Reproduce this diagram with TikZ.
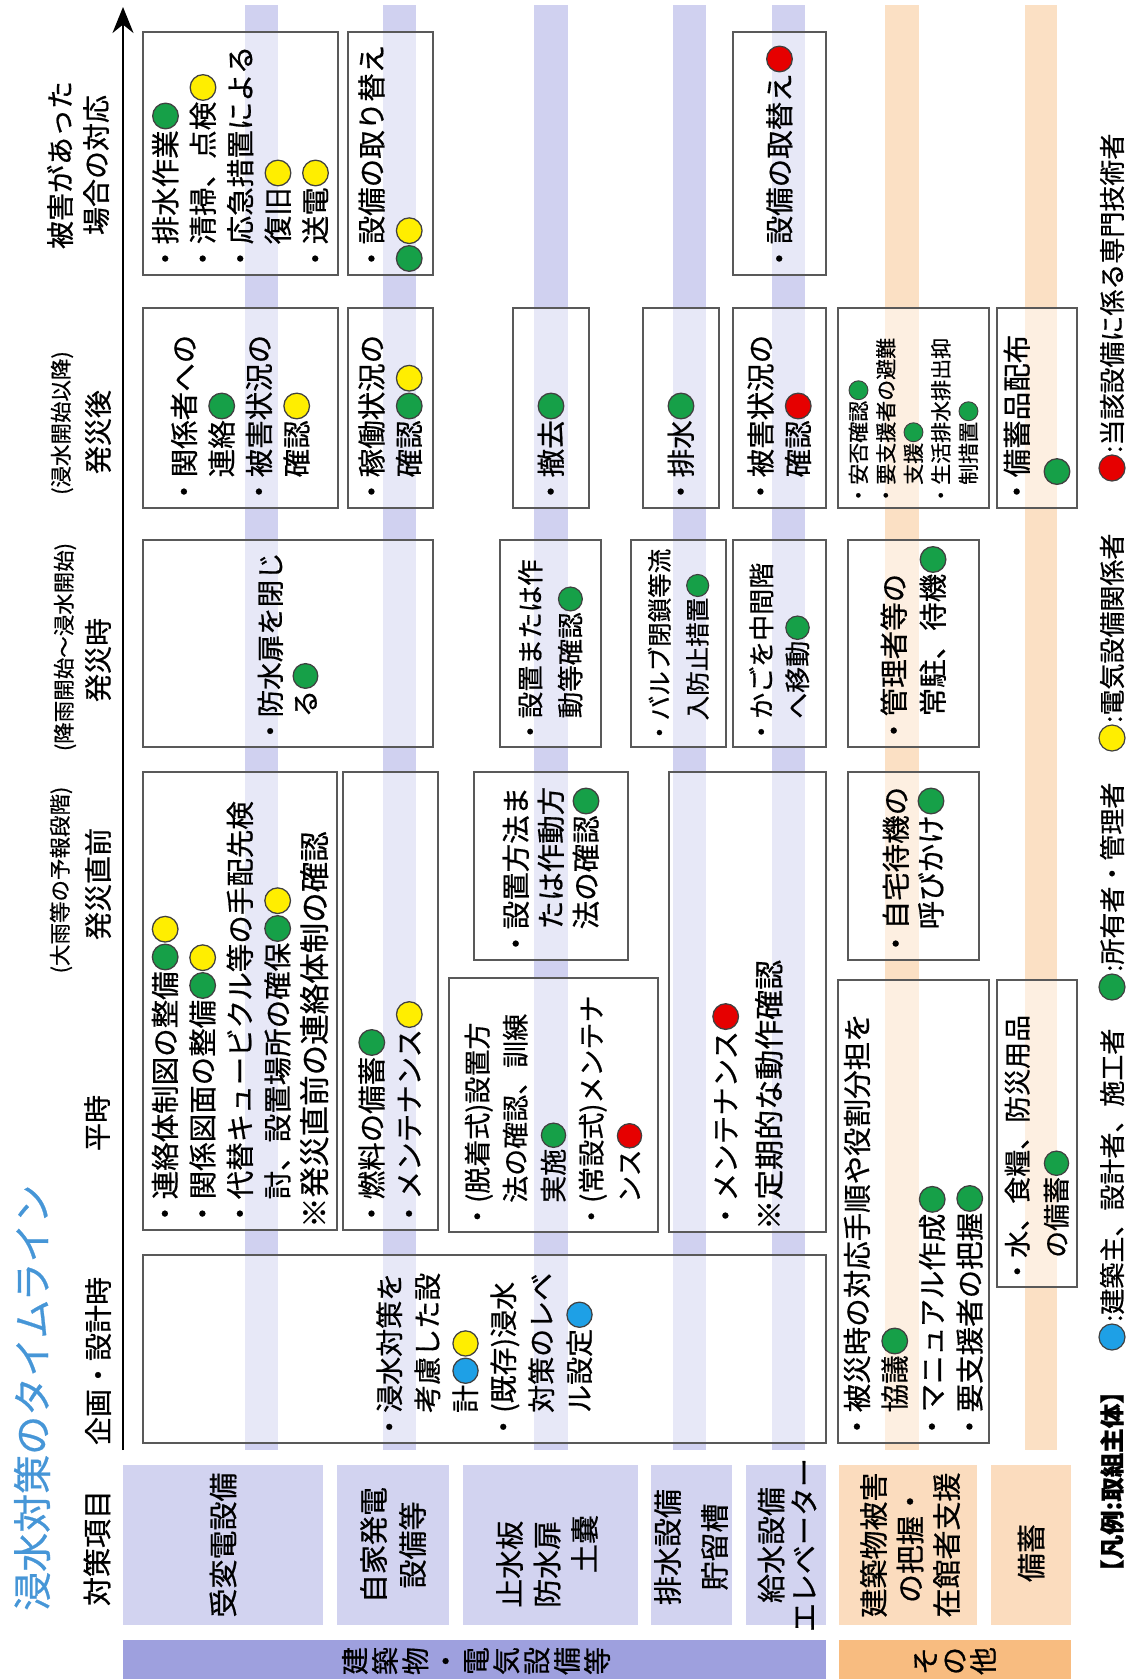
\documentclass[tikz,border=0pt]{standalone}
\usepackage{fontspec}
\setmainfont{Noto Sans CJK JP}[FakeBold=0.6]
\usetikzlibrary{arrows.meta}
\definecolor{cg}{RGB}{22,160,72}
\definecolor{cy}{RGB}{255,238,0}
\definecolor{cb}{RGB}{30,160,230}
\definecolor{crd}{RGB}{230,0,0}
\definecolor{lav}{RGB}{208,209,240}
\definecolor{lavhead}{RGB}{210,211,240}
\definecolor{lavbar}{RGB}{158,160,222}
\definecolor{org}{RGB}{251,224,196}
\definecolor{orghead}{RGB}{251,220,190}
\definecolor{orgbar}{RGB}{248,188,128}
\definecolor{ttl}{RGB}{70,150,215}
\newcommand{\mk}[1]{\hspace{0.03em}\tikz[baseline={(0,-0.37em)}]\draw[line width=0.045em,draw=black!75,fill=#1] (0,0) circle (0.45em);}
\newcommand{\mkG}{\mk{cg}}
\newcommand{\mkY}{\mk{cy}}
\newcommand{\mkB}{\mk{cb}}
\newcommand{\mkR}{\mk{crd}}
\newcommand{\ind}{\hspace*{1em}}
\tikzset{
  boxs/.style={draw=black!65,line width=1.3pt,fill=white,fill opacity=0.5},
  tx/.style={rotate=90,anchor=west,inner sep=0pt,align=left,font=\fontsize{28.5}{37.5}\selectfont},
  hd/.style={rotate=90,anchor=center,inner sep=0pt,align=center,font=\fontsize{29}{37.5}\selectfont},
  ph/.style={rotate=90,anchor=center,inner sep=0pt,align=center,font=\fontsize{28}{36}\selectfont},
  phs/.style={rotate=90,anchor=center,inner sep=0pt,font=\fontsize{21.5}{24}\selectfont},
  lg/.style={rotate=90,anchor=west,inner sep=0pt,font=\fontsize{26}{30}\selectfont},
  lgc/.style={circle,draw=black!75,line width=1.2pt,minimum size=26pt,inner sep=0pt},
  vt/.style={rotate=90,anchor=center,inner sep=0pt,align=center,font=\fontsize{28}{30.3}\selectfont},
}
\begin{document}
\begin{tikzpicture}[x=1pt,y=1pt]
\path[use as bounding box] (0,0) rectangle (1128,-1679);
% stripes
\foreach \a/\b in {245/278,383/416,534/568,673/706,772/805}
  \fill[lav] (\a,-5) rectangle (\b,-1450);
\foreach \a/\b in {885/919,1025/1057}
  \fill[org] (\a,-5) rectangle (\b,-1450);
% boxes
\draw[boxs] (143,-32) rectangle (338,-275);
\draw[boxs] (348,-32) rectangle (433,-275);
\draw[boxs] (733,-32) rectangle (826,-275);
\draw[boxs] (143,-308) rectangle (338,-508);
\draw[boxs] (348,-308) rectangle (433,-508);
\draw[boxs] (513,-308) rectangle (589,-508);
\draw[boxs] (643,-308) rectangle (719,-508);
\draw[boxs] (733,-308) rectangle (826,-508);
\draw[boxs] (838,-308) rectangle (989,-508);
\draw[boxs] (997,-308) rectangle (1077,-508);
\draw[boxs] (143,-540) rectangle (433,-747);
\draw[boxs] (500,-540) rectangle (601,-747);
\draw[boxs] (631,-540) rectangle (726,-747);
\draw[boxs] (733,-540) rectangle (826,-747);
\draw[boxs] (848,-540) rectangle (979,-747);
\draw[boxs] (143,-772) rectangle (337,-1230);
\draw[boxs] (343,-772) rectangle (438,-1230);
\draw[boxs] (474,-772) rectangle (628,-960);
\draw[boxs] (449,-978) rectangle (658,-1232);
\draw[boxs] (669,-772) rectangle (826,-1232);
\draw[boxs] (848,-772) rectangle (979,-960);
\draw[boxs] (838,-980) rectangle (989,-1443);
\draw[boxs] (997,-980) rectangle (1077,-1287);
\draw[boxs] (143,-1255) rectangle (826,-1443);
% box texts
\node[tx] (t1) at (240.5,-273) {・排水作業\mkG\\・清掃、点検\mkY\\・応急措置による\\\ind 復旧\mkY\\・送電\mkY};
\node[tx] (t2) at (390.5,-273) {・設備の取り替え\\\mkG\mkY};
\node[tx] (t3) at (779.5,-273) {・設備の取替え\mkR};
\node[tx] (t4) at (240.5,-506) {・関係者への\\\ind 連絡\mkG\\・被害状況の\\\ind 確認\mkY};
\node[tx] (t5) at (390.5,-506) {・稼働状況の\\\ind 確認\mkG\mkY};
\node[tx] (t6) at (551,-506) {・撤去\mkG};
\node[tx] (t7) at (681,-506) {・排水\mkG};
\node[tx] (t8) at (779.5,-506) {・被害状況の\\\ind 確認\mkR};
\node[tx,font=\fontsize{21}{27.5}\selectfont] (t9) at (913.5,-506) {・安否確認\mkG\\・要支援者の避難\\\ind 支援\mkG\\・生活排水排出抑\\\ind 制措置\mkG};
\node[tx,font=\fontsize{28.5}{40}\selectfont] (t10) at (1037,-506) {・備蓄品配布\\\hspace*{0.7em}\mkG};
\node[tx,font=\fontsize{27.5}{35}\selectfont] (t11) at (288,-745) {・防水扉を閉じ\\\ind る\mkG};
\node[tx,font=\fontsize{26.5}{40}\selectfont] (t12) at (550.5,-745) {・設置または作\\\ind 動等確認\mkG};
\node[tx,font=\fontsize{24.5}{38}\selectfont] (t13) at (678.5,-745) {・バルブ閉鎖等流\\\ind 入防止措置\mkG};
\node[tx,font=\fontsize{26}{36}\selectfont] (t14) at (779.5,-745) {・かごを中間階\\\ind へ移動\mkG};
\node[tx,font=\fontsize{28.5}{39}\selectfont] (t15) at (913.5,-745) {・管理者等の\\\ind 常駐、待機\mkG};
\node[tx] (t16) at (240,-1228) {・連絡体制図の整備\mkG\mkY\\・関係図面の整備\mkG\mkY\\・代替キュービクル等の手配先検\\\ind 討、設置場所の確保\mkG\mkY\\{\fontsize{30.5}{37.5}\selectfont ※発災直前の連絡体制の確認}};
\node[tx] (t17) at (390.5,-1228) {・燃料の備蓄\mkG\\・メンテナンス\mkY};
\node[tx,font=\fontsize{28.5}{35}\selectfont] (t18) at (551,-958) {・設置方法ま\\\ind たは作動方\\\ind 法の確認\mkG};
\node[tx,font=\fontsize{27}{38}\selectfont] (t19) at (553.5,-1230) {・(脱着式)設置方\\\ind 法の確認、訓練\\\ind 実施\mkG\\・(常設式)メンテナ\\\ind ンス\mkR};
\node[tx,font=\fontsize{28.5}{44}\selectfont] (t20) at (747.5,-1230) {・メンテナンス\mkR\\{\fontsize{30}{44}\selectfont ※定期的な動作確認}};
\node[tx,font=\fontsize{28.5}{35}\selectfont] (t21) at (913.5,-958) {・自宅待機の\\\ind 呼びかけ\mkG};
\node[tx] (t22) at (913.5,-1441) {・被災時の対応手順や役割分担を\\\ind 協議\mkG\\・マニュアル作成\mkG\\・要支援者の把握\mkG};
\node[tx,font=\fontsize{27}{39}\selectfont] (t23) at (1037,-1285) {・水、食糧、防災用品\\\ind の備蓄\mkG};
\node[tx,font=\fontsize{28}{38}\selectfont] (t24) at (484.5,-1441) {・浸水対策を\\\ind 考慮した設\\\ind 計\mkB\mkY\\・(既存)浸水\\\ind 対策のレベ\\\ind ル設定\mkB};
% row headers
\fill[lavhead] (123,-1465) rectangle (323,-1625);
\fill[lavhead] (337,-1465) rectangle (449,-1625);
\fill[lavhead] (463,-1465) rectangle (638,-1625);
\fill[lavhead] (651,-1465) rectangle (732,-1625);
\fill[lavhead] (746,-1465) rectangle (826,-1625);
\fill[orghead] (839,-1465) rectangle (977,-1625);
\fill[orghead] (991,-1465) rectangle (1071,-1625);
\node[hd] (h0) at (97,-1548) {対策項目};
\node[hd] (h1) at (223,-1545) {受変電設備};
\node[hd,font=\fontsize{29}{39}\selectfont] (h2) at (393,-1545) {自家発電\\設備等};
\node[hd,anchor=west,align=left] (h3) at (547,-1608) {止水板\\防水扉\\\hspace*{1.2em}土嚢};
\node[hd,font=\fontsize{29}{47}\selectfont] (h4) at (691,-1547) {排水設備\\貯留槽};
\node[hd,font=\fontsize{29}{33}\selectfont] (h5) at (787,-1545) {給水設備\\エレベーター};
\node[hd,font=\fontsize{29}{36.5}\selectfont] (h6) at (910,-1545) {建築物被害\\の把握・\\在館者支援};
\node[hd] (h7) at (1031,-1553) {備蓄};
% category bars
\fill[lavbar] (123,-1640) rectangle (826,-1679);
\fill[orgbar] (839,-1640) rectangle (1071,-1679);
\node[vt] (c1) at (476,-1661) {建\\築\\物\\・\\電\\気\\設\\備\\等};
\node[vt,font=\fontsize{28}{29}\selectfont] (c2) at (955,-1661) {そ\\の\\他};
% title
\node[rotate=90,anchor=west,inner sep=0pt,text=ttl,font=\fontsize{39}{40}\selectfont] (title) at (32,-1611) {浸水対策のタイムライン};
% phase labels
\node[ph] (p1) at (98,-1361) {企画・設計時};
\node[ph] (p2) at (97,-1123) {平時};
\node[ph] (p3) at (98,-884) {発災直前};
\node[phs] (p3s) at (61,-880) {(大雨等の予報段階)};
\node[ph] (p4) at (98,-660) {発災時};
\node[phs] (p4s) at (65,-647) {(降雨開始～浸水開始)};
\node[ph] (p5) at (98,-432) {発災後};
\node[phs] (p5s) at (62,-423) {(浸水開始以降)};
\node[ph] (p6) at (78,-165) {被害があった\\場合の対応};
% timeline arrow
\coordinate (aS) at (123,-1450);
\coordinate (aE) at (123,-7);
\draw[line width=2.5pt,-{Stealth[length=26pt,width=21pt]}] (aS) -- (aE);
% legend
\node[lg,font=\bfseries\fontsize{24.5}{28}\selectfont] (lg0) at (1112,-1584) {【凡例:取組主体】};
\node[lgc,fill=cb] (lgb) at (1112,-1337) {};
\node[lg] (lgbt) at (1112,-1322) {:建築主、設計者、施工者};
\node[lgc,fill=cg] (lgg) at (1112,-987) {};
\node[lg] (lggt) at (1112,-972) {:所有者・管理者};
\node[lgc,fill=cy] (lgy) at (1112,-738) {};
\node[lg] (lgyt) at (1112,-723) {:電気設備関係者};
\node[lgc,fill=crd] (lgr) at (1112,-468) {};
\node[lg] (lgrt) at (1112,-453) {:当該設備に係る専門技術者};
\end{tikzpicture}
\end{document}
